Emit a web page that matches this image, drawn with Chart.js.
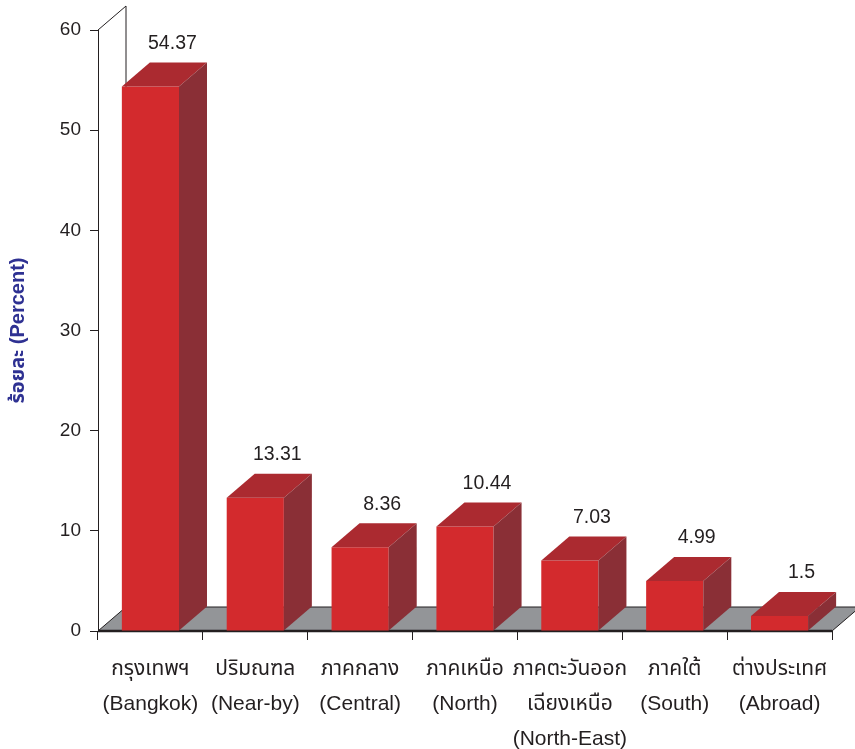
<!DOCTYPE html>
<html>
<head>
<meta charset="utf-8">
<script src="https://cdn.jsdelivr.net/npm/chart.js@4.4.0/dist/chart.umd.min.js"></script>
<style>
  body { margin: 0; background: #ffffff; }
  #wrap { width: 855px; height: 749px; }
</style>
</head>
<body>
<div id="wrap"><canvas id="regionChart" width="855" height="749"></canvas></div>
<script>
var categories = [
  ["กรุงเทพฯ", "(Bangkok)"],
  ["ปริมณฑล", "(Near-by)"],
  ["ภาคกลาง", "(Central)"],
  ["ภาคเหนือ", "(North)"],
  ["ภาคตะวันออก", "เฉียงเหนือ", "(North-East)"],
  ["ภาคใต้", "(South)"],
  ["ต่างประเทศ", "(Abroad)"]
];
var percentValues = [54.37, 13.31, 8.36, 10.44, 7.03, 4.99, 1.5];
var valueLabels = ["54.37", "13.31", "8.36", "10.44", "7.03", "4.99", "1.5"];
var yTicks = [0, 10, 20, 30, 40, 50, 60];
var yTitle = "ร้อยละ (Percent)";

var FONT = '"Liberation Sans", Arial, "Noto Sans Thai", "Noto Sans", sans-serif';
var DEPTH_X = 28;
var DEPTH_Y = 24;

// 3D floor, back wall and bar faces
var box3d = {
  id: "box3d",
  beforeDatasetsDraw: function (chart) {
    var ctx = chart.ctx;
    var a = chart.chartArea;
    var y0 = chart.scales.y.getPixelForValue(0);
    var yTop = chart.scales.y.getPixelForValue(60);
    ctx.save();
    // floor
    ctx.beginPath();
    ctx.moveTo(a.left, y0);
    ctx.lineTo(a.right, y0);
    ctx.lineTo(a.right + DEPTH_X, y0 - DEPTH_Y);
    ctx.lineTo(a.left + DEPTH_X, y0 - DEPTH_Y);
    ctx.closePath();
    ctx.fillStyle = "#939598";
    ctx.fill();
    ctx.lineWidth = 1;
    ctx.strokeStyle = "#231f20";
    ctx.stroke();
    // back wall edge
    ctx.beginPath();
    ctx.moveTo(a.left, yTop);
    ctx.lineTo(a.left + DEPTH_X, yTop - DEPTH_Y);
    ctx.lineTo(a.left + DEPTH_X, y0 - DEPTH_Y);
    ctx.stroke();
    // front edge of floor
    ctx.beginPath();
    ctx.lineWidth = 2.5;
    ctx.moveTo(a.left, y0);
    ctx.lineTo(a.right, y0);
    ctx.stroke();
    ctx.restore();
  },
  afterDatasetsDraw: function (chart) {
    var ctx = chart.ctx;
    var bars = chart.getDatasetMeta(0).data;
    ctx.save();
    bars.forEach(function (bar, i) {
      var x0 = bar.x - bar.width / 2;
      var x1 = bar.x + bar.width / 2;
      var y = bar.y;
      var base = bar.base;
      // top face
      ctx.beginPath();
      ctx.moveTo(x0, y);
      ctx.lineTo(x0 + DEPTH_X, y - DEPTH_Y);
      ctx.lineTo(x1 + DEPTH_X, y - DEPTH_Y);
      ctx.lineTo(x1, y);
      ctx.closePath();
      ctx.fillStyle = "#ab2a30";
      ctx.fill();
      // side face
      ctx.beginPath();
      ctx.moveTo(x1, y);
      ctx.lineTo(x1 + DEPTH_X, y - DEPTH_Y);
      ctx.lineTo(x1 + DEPTH_X, base - DEPTH_Y);
      ctx.lineTo(x1, base);
      ctx.closePath();
      ctx.fillStyle = "#8a2f36";
      ctx.fill();
      // value label
      ctx.fillStyle = "#231f20";
      ctx.font = "19.5px " + FONT;
      ctx.textAlign = "center";
      ctx.textBaseline = "middle";
      ctx.fillText(valueLabels[i], bar.x + 22, y - DEPTH_Y - 19);
    });
    ctx.restore();
  }
};

var ctx = document.getElementById("regionChart").getContext("2d");
var regionChart = new Chart(ctx, {
  type: "bar",
  data: {
    labels: categories,
    datasets: [
      {
        data: percentValues,
        backgroundColor: "#d32a2d",
        borderWidth: 0,
        categoryPercentage: 1,
        barPercentage: 0.545
      }
    ]
  },
  options: {
    responsive: false,
    animation: false,
    layout: { padding: { top: 30, right: 23, left: 0, bottom: 0 } },
    plugins: {
      legend: { display: false },
      tooltip: { enabled: false }
    },
    scales: {
      x: {
        offset: true,
        border: { display: false },
        grid: {
          offset: true,
          drawOnChartArea: false,
          drawTicks: true,
          tickLength: 9,
          color: "#231f20",
          lineWidth: 1
        },
        ticks: {
          color: "#231f20",
          font: { family: FONT, size: 21, lineHeight: 1.67 },
          padding: 12,
          maxRotation: 0,
          autoSkip: false
        },
        afterFit: function (scale) {
          scale.height = 118;
        }
      },
      y: {
        min: 0,
        max: 60,
        afterBuildTicks: function (scale) {
          scale.ticks = yTicks.map(function (v) {
            return { value: v };
          });
        },
        border: { display: true, color: "#231f20", width: 1 },
        grid: {
          drawOnChartArea: false,
          drawTicks: true,
          tickLength: 8,
          color: "#231f20"
        },
        ticks: {
          color: "#231f20",
          font: { family: FONT, size: 19 },
          padding: 9
        },
        title: {
          display: true,
          text: yTitle,
          color: "#2e3192",
          font: { family: FONT, size: 20, weight: "bold" },
          padding: { top: 6, bottom: 0 }
        },
        afterFit: function (scale) {
          scale.width = 98;
        }
      }
    }
  },
  plugins: [box3d]
});
</script>
</body>
</html>
